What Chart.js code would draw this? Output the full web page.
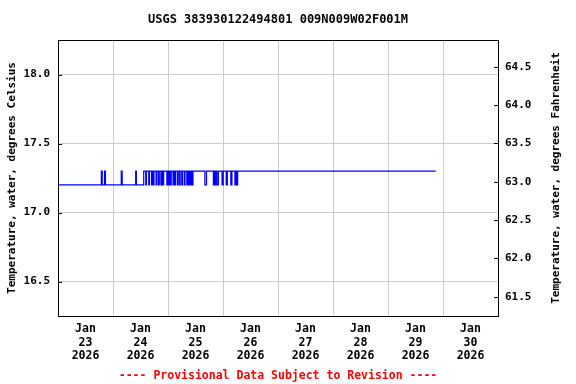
<!DOCTYPE html>
<html>
<head>
<meta charset="utf-8">
<script src="https://cdn.jsdelivr.net/npm/chart.js@4.4.1/dist/chart.umd.min.js"></script>
<style>
  html, body { margin: 0; padding: 0; background: #fff; }
  canvas { display: block; }
</style>
</head>
<body>
<canvas id="myChart" width="576" height="384"></canvas>
<script>
// hours since Jan 23 2026 00:00 at which the reading changes
const obsHours = [
  0, 18.9, 19.3, 20.3, 20.7, 27.6, 28.0, 33.9, 34.2,
  37.4, 38.3, 38.6, 39.6, 39.9, 40.8, 41.1, 41.6, 41.9, 42.8, 43.2, 43.9,
  44.2, 44.9, 45.3, 45.8, 46.1, 47.5, 47.8, 48.3, 48.5, 49.0, 49.4, 50.2,
  50.5, 51.0, 51.3, 52.1, 52.4, 53.0, 53.3, 54.0, 54.3, 55.1, 55.4, 56.2,
  56.5, 56.9, 57.1, 57.4, 57.6, 57.9, 58.1, 58.4, 58.9,
  64.1, 64.8, 67.8, 68.3, 68.6, 69.1, 69.4, 70.0, 71.6, 72.1, 73.4, 73.9,
  75.4, 75.9, 77.2, 77.6, 77.9, 78.4, 164.8
];
const tempC = [
  17.2, 17.3, 17.2, 17.3, 17.2, 17.3, 17.2, 17.3, 17.2,
  17.3, 17.2, 17.3, 17.2, 17.3, 17.2, 17.3, 17.2, 17.3, 17.2, 17.3, 17.2,
  17.3, 17.2, 17.3, 17.2, 17.3, 17.2, 17.3, 17.2, 17.3, 17.2, 17.3, 17.2,
  17.3, 17.2, 17.3, 17.2, 17.3, 17.2, 17.3, 17.2, 17.3, 17.2, 17.3, 17.2,
  17.3, 17.2, 17.3, 17.2, 17.3, 17.2, 17.3, 17.2, 17.3,
  17.2, 17.3, 17.2, 17.3, 17.2, 17.3, 17.2, 17.3, 17.2, 17.3, 17.2, 17.3,
  17.2, 17.3, 17.2, 17.3, 17.2, 17.3, 17.3
];

const dayLabels = ["23", "24", "25", "26", "27", "28", "29", "30"];
const monthLabel = "Jan";
const yearLabel = "2026";
const celsiusTicks = [16.5, 17.0, 17.5, 18.0];
const fahrenheitTicks = [61.5, 62.0, 62.5, 63.0, 63.5, 64.0, 64.5];
const yMinC = 16.25;
const yMaxC = 18.25;

const MONO = "'DejaVu Sans Mono', monospace";
Chart.defaults.font.family = MONO;
Chart.defaults.color = "#000";

// box on top, inward ticks, right axis title (reads bottom to top)
const frame = {
  id: "frame",
  afterDraw(chart) {
    const { ctx, chartArea: a, scales } = chart;
    ctx.save();
    ctx.strokeStyle = "#000";
    ctx.lineWidth = 1;
    ctx.beginPath();
    ctx.moveTo(a.left, a.top + 0.5);
    ctx.lineTo(a.right, a.top + 0.5);
    ctx.stroke();
    ctx.beginPath();
    celsiusTicks.forEach((v) => {
      const y = Math.round(scales.y.getPixelForValue(v)) + 0.5;
      ctx.moveTo(a.left, y);
      ctx.lineTo(a.left + 4, y);
    });
    fahrenheitTicks.forEach((v) => {
      const y = Math.round(scales.yF.getPixelForValue(v)) + 0.5;
      ctx.moveTo(a.right - 4, y);
      ctx.lineTo(a.right, y);
    });
    ctx.stroke();
    ctx.fillStyle = "#000";
    ctx.font = "bold 11px " + MONO;
    ctx.textAlign = "center";
    ctx.textBaseline = "middle";
    ctx.translate(556, (a.top + a.bottom) / 2);
    ctx.rotate(-Math.PI / 2);
    ctx.fillText("Temperature, water, degrees Fahrenheit", 0, 0);
    ctx.restore();
  },
};

const ctx = document.getElementById("myChart").getContext("2d");
const chart = new Chart(ctx, {
  type: "line",
  data: {
    datasets: [
      {
        label: "Temperature",
        data: obsHours.map((h, i) => ({ x: h, y: tempC[i] })),
        borderColor: "#0000ff",
        borderWidth: 1.2,
        pointRadius: 0,
        stepped: "before",
        fill: false,
      },
    ],
  },
  options: {
    responsive: false,
    animation: false,
    layout: { padding: { left: 0, right: 20, top: 0, bottom: 0 } },
    plugins: {
      legend: { display: false },
      tooltip: { enabled: false },
      title: {
        display: true,
        text: "USGS 383930122494801 009N009W02F001M",
        color: "#000",
        font: { size: 12, weight: "bold", lineHeight: 1.2 },
        padding: { top: 13, bottom: 12.6 },
      },
      subtitle: {
        display: true,
        position: "bottom",
        text: "---- Provisional Data Subject to Revision ----",
        color: "#ff0000",
        font: { size: 11.5, weight: "bold", lineHeight: 1.2 },
        padding: { top: 3, bottom: 1 },
      },
    },
    scales: {
      x: {
        type: "linear",
        min: 0,
        max: dayLabels.length * 24,
        afterBuildTicks: (s) => {
          const t = [];
          dayLabels.forEach((d, i) => {
            t.push({ value: i * 24 });
            t.push({ value: i * 24 + 12 });
          });
          t.push({ value: dayLabels.length * 24 });
          s.ticks = t;
        },
        afterFit: (s) => { s.height = 50.2; },
        grid: {
          color: (c) => (c.tick && c.tick.value % 24 === 0 ? "#cccccc" : "rgba(0,0,0,0)"),
          drawTicks: false,
        },
        border: { display: true, color: "#000" },
        ticks: {
          autoSkip: false,
          maxRotation: 0,
          padding: 6,
          font: { size: 11.5, weight: "bold", lineHeight: 1.2 },
          callback: (v) => {
            if (v % 24 !== 12) return "";
            return [monthLabel, dayLabels[(v - 12) / 24], yearLabel];
          },
        },
      },
      y: {
        position: "left",
        min: yMinC,
        max: yMaxC,
        afterBuildTicks: (s) => { s.ticks = celsiusTicks.map((v) => ({ value: v })); },
        afterFit: (s) => { s.width = 58; },
        grid: { color: "#cccccc", drawTicks: false },
        border: { display: true, color: "#000" },
        ticks: {
          padding: 8,
          font: { size: 11, weight: "bold" },
          callback: (v) => v.toFixed(1),
        },
        title: {
          display: true,
          text: "Temperature, water, degrees Celsius",
          font: { size: 11, weight: "bold", lineHeight: 1.2 },
          padding: { top: 5.5, bottom: 0 },
        },
      },
      yF: {
        position: "right",
        min: yMinC * 1.8 + 32,
        max: yMaxC * 1.8 + 32,
        afterBuildTicks: (s) => { s.ticks = fahrenheitTicks.map((v) => ({ value: v })); },
        afterFit: (s) => { s.width = 58; },
        grid: { drawOnChartArea: false, drawTicks: false },
        border: { display: true, color: "#000" },
        ticks: {
          padding: 7,
          font: { size: 11, weight: "bold" },
          callback: (v) => v.toFixed(1),
        },
      },
    },
  },
  plugins: [frame],
});
</script>
</body>
</html>
